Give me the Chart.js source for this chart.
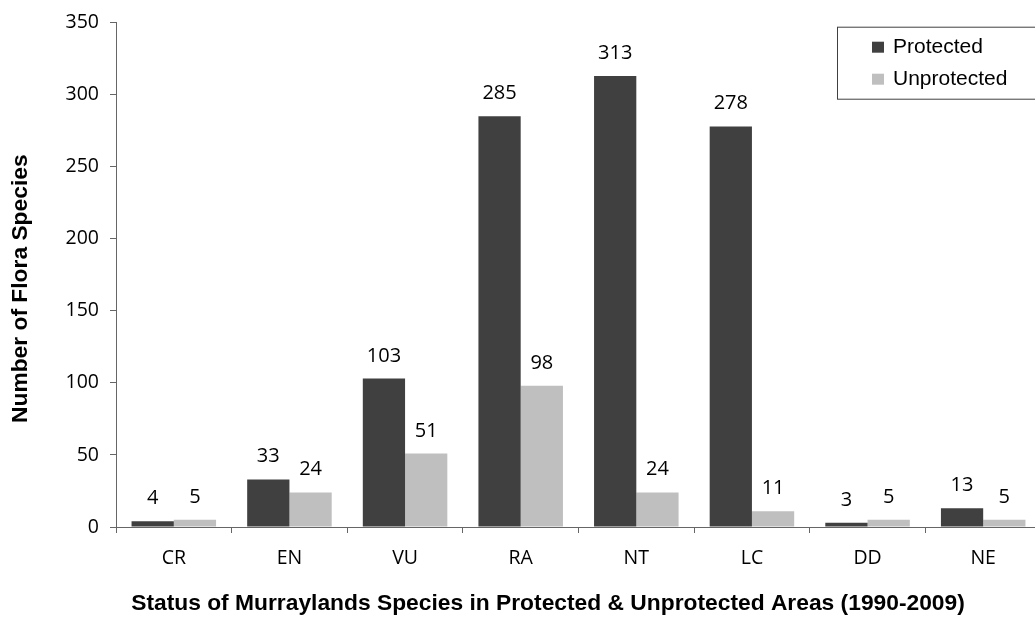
<!DOCTYPE html>
<html>
<head>
<meta charset="utf-8">
<script src="https://cdn.jsdelivr.net/npm/chart.js@4/dist/chart.umd.min.js"></script>
<style>
    html, body { margin: 0; padding: 0; background: #fff; overflow: hidden; }
    #wrap { width: 1045px; height: 619px; }
</style>
</head>
<body>
<div id="wrap"><canvas id="flora" width="1045" height="619"></canvas></div>
<script>
const categories = ["CR", "EN", "VU", "RA", "NT", "LC", "DD", "NE"];
const protectedCounts = [4, 33, 103, 285, 313, 278, 3, 13];
const unprotectedCounts = [5, 24, 51, 98, 24, 11, 5, 5];
const yTicks = [0, 50, 100, 150, 200, 250, 300, 350];

const xTitle = "Status of Murraylands Species in Protected & Unprotected Areas (1990-2009)";
const yTitle = "Number of Flora Species";

const labelFont = '20px "Open Sans", sans-serif';
const titleFont = 'bold 22.8px "Liberation Sans", Arial, sans-serif';

// values written above each bar
const barValues = {
    id: "barValues",
    afterDatasetsDraw(chart) {
        const ctx = chart.ctx;
        ctx.save();
        ctx.font = labelFont;
        ctx.fillStyle = "#000";
        ctx.textAlign = "center";
        ctx.textBaseline = "alphabetic";
        chart.data.datasets.forEach((ds, i) => {
            chart.getDatasetMeta(i).data.forEach((bar, j) => {
                ctx.fillText(String(ds.data[j]), bar.x, bar.y - 17);
            });
        });
        ctx.restore();
    },
};

// axis titles, placed like the original (x title sits a bit left of centre)
const axisTitles = {
    id: "axisTitles",
    afterDraw(chart) {
        const ctx = chart.ctx;
        const area = chart.chartArea;
        ctx.save();
        ctx.font = titleFont;
        ctx.fillStyle = "#000";
        ctx.textAlign = "center";
        ctx.textBaseline = "middle";
        ctx.fillText(xTitle, area.left + 432, area.bottom + 77);
        ctx.translate(20.5, area.top + 266);
        ctx.rotate(-Math.PI / 2);
        ctx.fillText(yTitle, 0, 0);
        ctx.restore();
    },
};

// boxed legend in the top right corner
const boxLegend = {
    id: "boxLegend",
    afterDraw(chart) {
        const ctx = chart.ctx;
        const area = chart.chartArea;
        const left = area.right - 204;
        const top = area.top + 4;
        ctx.save();
        ctx.strokeStyle = "#404040";
        ctx.lineWidth = 1;
        ctx.strokeRect(left + 0.5, top + 0.5, 260, 72);
        ctx.font = '21px "Liberation Sans", Arial, sans-serif';
        ctx.textBaseline = "middle";
        ctx.textAlign = "left";
        chart.data.datasets.forEach((ds, i) => {
            const y = top + 20 + i * 32;
            ctx.fillStyle = ds.backgroundColor;
            ctx.fillRect(left + 35, y - 5, 12, 11);
            ctx.fillStyle = "#000";
            ctx.fillText(ds.label, left + 56, y + 1);
        });
        ctx.restore();
    },
};

new Chart(document.getElementById("flora").getContext("2d"), {
    type: "bar",
    data: {
        labels: categories,
        datasets: [
            {
                label: "Protected",
                data: protectedCounts,
                backgroundColor: "#404040",
                barPercentage: 1,
                categoryPercentage: 0.731,
            },
            {
                label: "Unprotected",
                data: unprotectedCounts,
                backgroundColor: "#bfbfbf",
                barPercentage: 1,
                categoryPercentage: 0.731,
            },
        ],
    },
    options: {
        responsive: false,
        animation: false,
        devicePixelRatio: 1,
        layout: { padding: { top: 17, right: 4, left: 0, bottom: 0 } },
        plugins: {
            legend: { display: false },
            tooltip: { enabled: false },
        },
        scales: {
            x: {
                afterFit(scale) {
                    scale.height = 92;
                },
                grid: {
                    drawOnChartArea: false,
                    drawTicks: true,
                    tickLength: 6,
                    color: "#666",
                },
                border: { display: true, color: "#666" },
                ticks: {
                    color: "#000",
                    font: { family: '"Open Sans", sans-serif', size: 19.5 },
                    padding: 14,
                },
            },
            y: {
                min: 0,
                max: 350,
                afterFit(scale) {
                    scale.width = 116;
                },
                afterBuildTicks(scale) {
                    scale.ticks = yTicks.map((v) => ({ value: v }));
                },
                grid: {
                    drawOnChartArea: false,
                    drawTicks: true,
                    tickLength: 6,
                    color: "#666",
                },
                border: { display: true, color: "#666" },
                ticks: {
                    color: "#000",
                    font: { family: '"Open Sans", sans-serif', size: 19.5 },
                    padding: 11,
                },
            },
        },
    },
    plugins: [barValues, axisTitles, boxLegend],
});
</script>
</body>
</html>
